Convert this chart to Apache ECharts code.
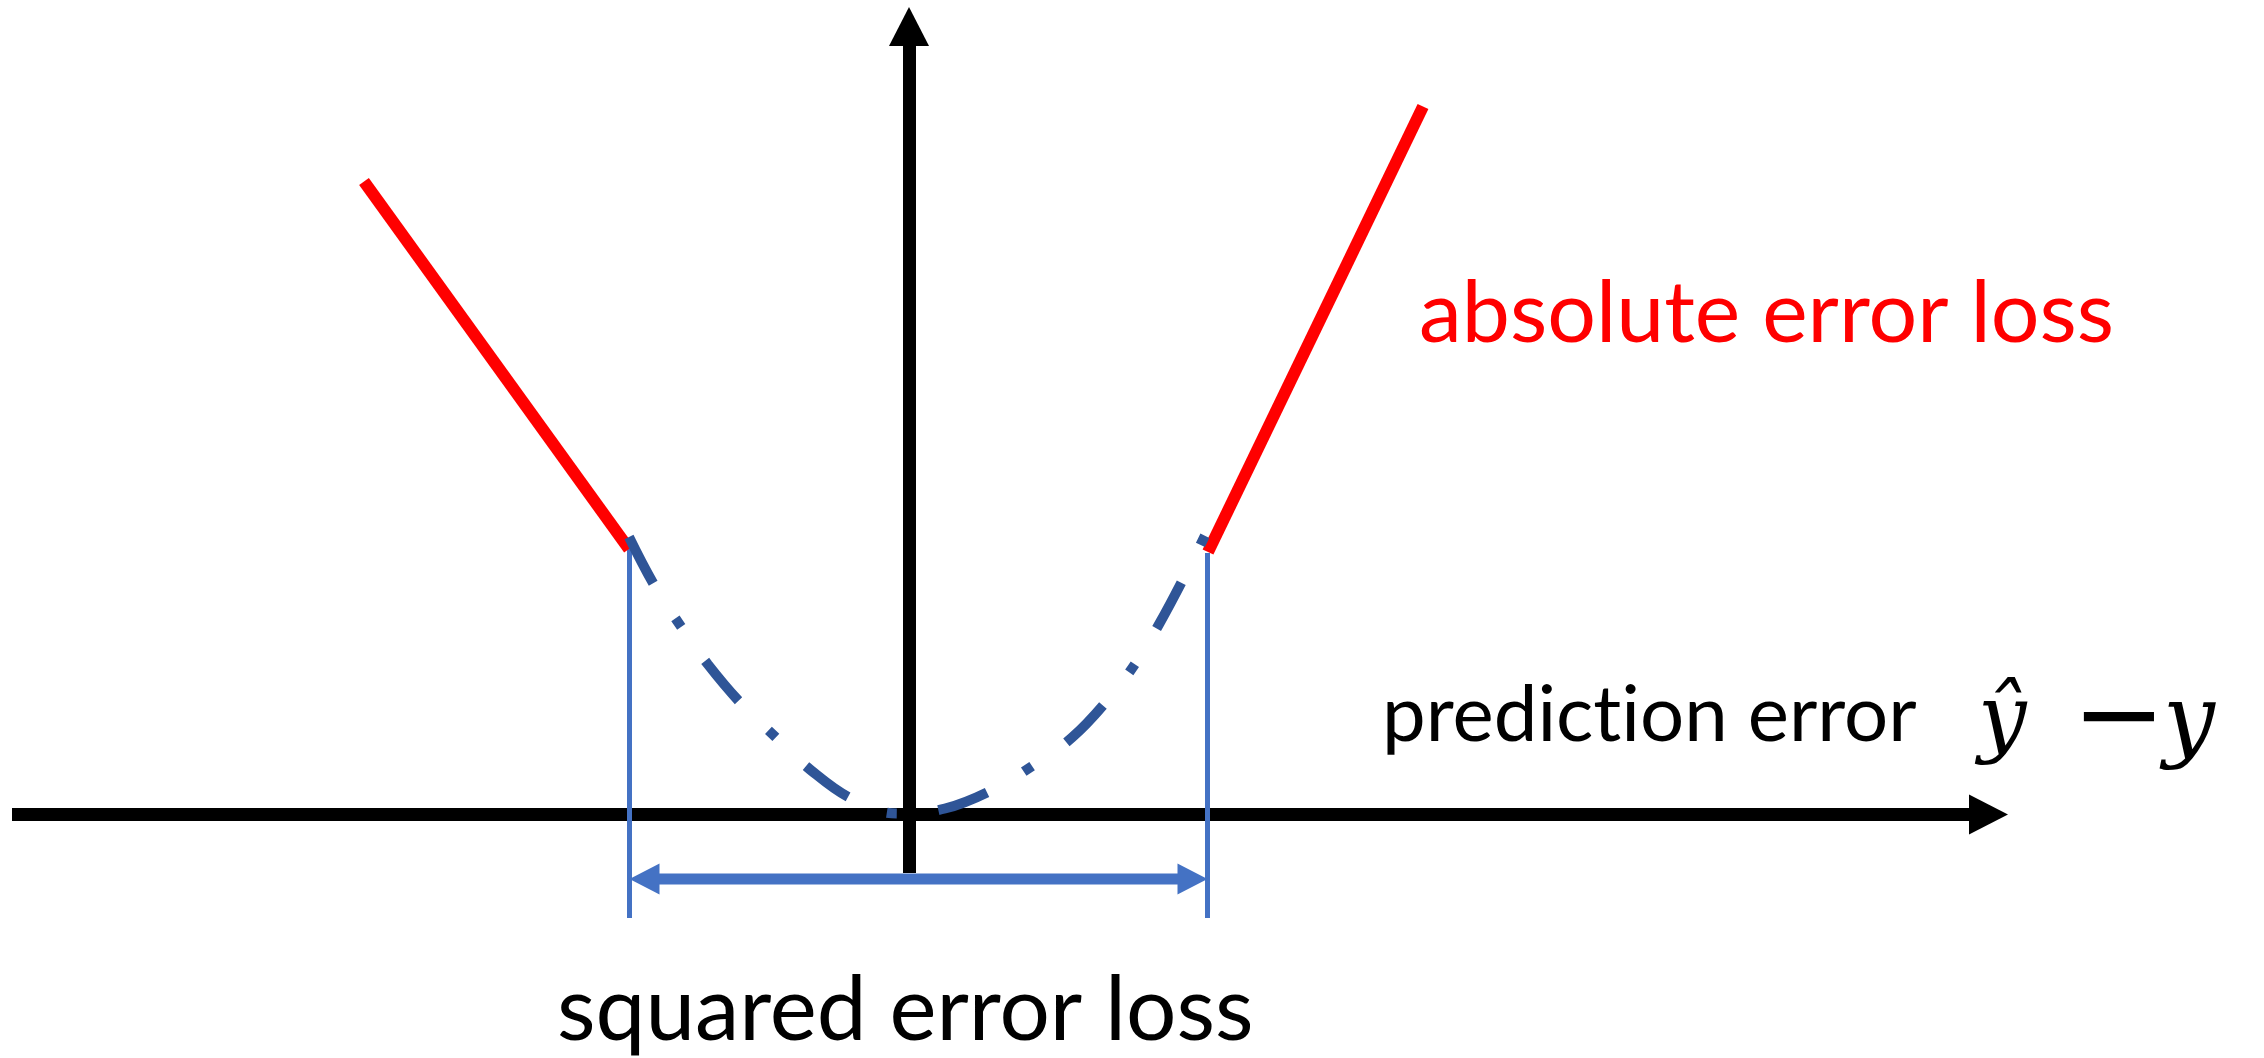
<!DOCTYPE html>
<html>
<head>
<meta charset="utf-8">
<title>absolute vs squared error loss</title>
<script src="https://cdn.jsdelivr.net/npm/echarts@6/dist/echarts.min.js"></script>
<style>
  html, body { margin: 0; padding: 0; background: #ffffff; }
  #chart { width: 2264px; height: 1058px; }
</style>
</head>
<body>
<div id="chart"></div>
<script>
let chart;

// frame of the sketch: x = prediction error, y = loss
const xMin = -8.97;
const xMax = 10.795;
const yMin = -0.585;
const yMax = 7.88;

// red absolute error loss, outside the thresholds
const absLeftX = [-5.45, -2.80];
const absLeftY = [6.33, 2.655];
const absRightX = [2.99, 5.14];
const absRightY = [2.625, 7.08];

// dash-dot squared error loss
const sqX = [-2.80, -2.54, -2.28, -2.01, -1.67, -1.33, -0.99, -0.56, -0.11, 0.36, 0.84, 1.24, 1.63, 1.99, 2.27, 2.51, 2.76, 2.99];
const sqY = [2.775, 2.28, 1.88, 1.50, 1.10, 0.77, 0.45, 0.15, 0.01, 0.06, 0.25, 0.49, 0.77, 1.15, 1.52, 1.92, 2.39, 2.85];

// thresholds where squared loss hands over to absolute loss
const thresholds = [-2.795, 2.985];
const guideTop = [2.715, 2.615];
const guideBottom = -1.035;
const spanY = -0.645;
const headHalf = 0.15;

const zip = (xs, ys) => xs.map((x, i) => [x, ys[i]]);

const textStyle = (text, color, family, size, extra) => Object.assign({
  text: text, fill: color, fontFamily: family, fontSize: size,
  verticalAlign: 'middle', textVerticalAlign: 'middle'
}, extra || {});

const getOption = () => {
  const axisArrow = {
    onZero: true,
    symbol: ['none', 'triangle'],
    symbolSize: [40, 39],
    lineStyle: { color: '#000000', width: 13, cap: 'butt' }
  };
  const spanEnds = [thresholds[0] + headHalf, thresholds[1] - headHalf];
  return {
    animation: false,
    backgroundColor: '#ffffff',
    grid: { left: 12, right: 275.5, top: 26.5, bottom: 185, containLabel: false, outerBoundsMode: 'none' },
    xAxis: {
      type: 'value', min: xMin, max: xMax,
      axisLine: axisArrow,
      axisTick: { show: false }, axisLabel: { show: false }, splitLine: { show: false }
    },
    yAxis: {
      type: 'value', min: yMin, max: yMax,
      axisLine: axisArrow,
      axisTick: { show: false }, axisLabel: { show: false }, splitLine: { show: false }
    },
    series: [
      {
        name: 'guide left', type: 'line', symbol: 'none', z: 2, clip: false,
        data: [[thresholds[0], guideBottom], [thresholds[0], guideTop[0]]],
        lineStyle: { color: '#4472C4', width: 5 }
      },
      {
        name: 'guide right', type: 'line', symbol: 'none', z: 2, clip: false,
        data: [[thresholds[1], guideBottom], [thresholds[1], guideTop[1]]],
        lineStyle: { color: '#4472C4', width: 5 }
      },
      {
        name: 'span', type: 'line', symbol: 'none', z: 3, clip: false,
        data: [[spanEnds[0], spanY], [spanEnds[1], spanY]],
        lineStyle: { color: '#4472C4', width: 11, cap: 'butt' }
      },
      {
        name: 'span heads', type: 'scatter', z: 3, clip: false,
        symbol: 'triangle', symbolSize: [31, 30],
        itemStyle: { color: '#4472C4', opacity: 1 },
        data: [
          { value: [spanEnds[0], spanY], symbolRotate: 90 },
          { value: [spanEnds[1], spanY], symbolRotate: -90 }
        ]
      },
      {
        name: 'absolute left', type: 'line', symbol: 'none', z: 3, clip: false,
        data: zip(absLeftX, absLeftY),
        lineStyle: { color: '#FF0000', width: 12, cap: 'butt' }
      },
      {
        name: 'absolute right', type: 'line', symbol: 'none', z: 3, clip: false,
        data: zip(absRightX, absRightY),
        lineStyle: { color: '#FF0000', width: 12, cap: 'butt' }
      },
      {
        name: 'squared', type: 'line', symbol: 'none', smooth: 0.4, z: 4, clip: false,
        data: zip(sqX, sqY),
        lineStyle: { color: '#2F5597', width: 10, type: [52, 42, 10, 42], cap: 'butt' }
      }
    ],
    graphic: [
      { type: 'text', x: 1419, y: 314, style: textStyle('absolute error loss', '#FF0000', 'Lato', 86) },
      { type: 'text', x: 1382, y: 716, style: textStyle('predict\u200Cion error', '#000000', 'Lato', 78) },
      { type: 'text', x: 1978, y: 724, style: textStyle('ŷ', '#000000', 'DejaVu Serif', 86, { fontStyle: 'italic' }) },
      { type: 'text', x: 2072, y: 723, style: textStyle('−', '#000000', 'DejaVu Sans', 112) },
      { type: 'text', x: 2163, y: 726, style: textStyle('y', '#000000', 'DejaVu Serif', 92, { fontStyle: 'italic' }) },
      { type: 'text', x: 557, y: 1011, style: textStyle('squared error loss', '#000000', 'Lato', 89) }
    ]
  };
};

const initChart = () => {
  chart = echarts.init(document.getElementById('chart'));
  chart.setOption(getOption());
};

document.addEventListener('DOMContentLoaded', function () {
  initChart();
});

window.addEventListener('resize', function () {
  chart.resize();
});
</script>
</body>
</html>
